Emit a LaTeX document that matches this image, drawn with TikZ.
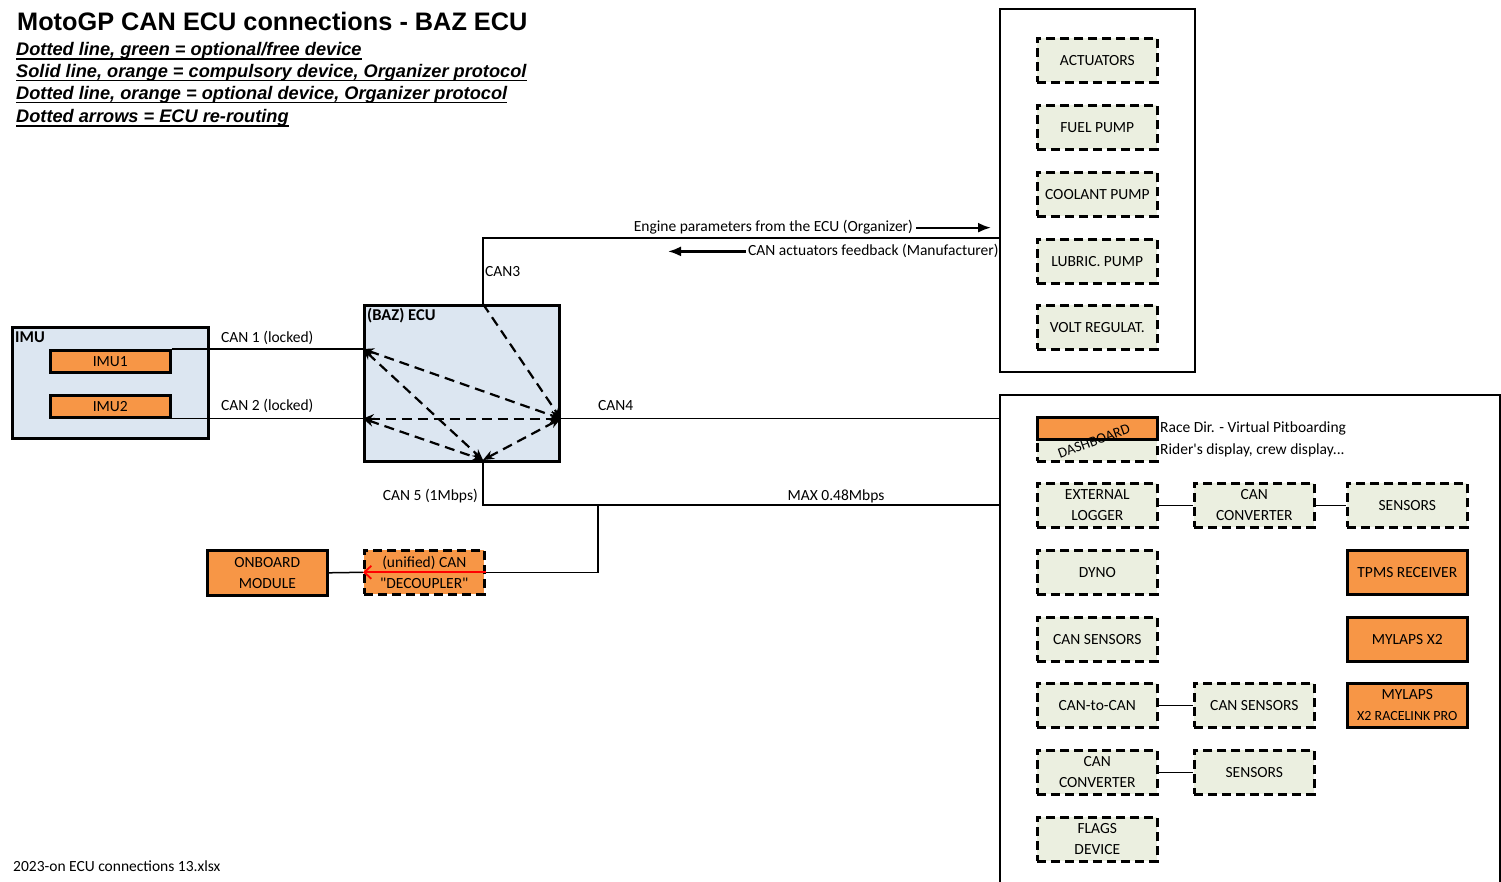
\documentclass[tikz,border=0pt]{standalone}
\usepackage{fontspec}
\setmainfont{Carlito}[Ligatures=TeXOff]
\newfontfamily\arialfont{Liberation Sans}
\usetikzlibrary{arrows.meta}
\definecolor{lblue}{HTML}{DCE6F1}
\definecolor{orng}{HTML}{F79646}
\definecolor{lgreen}{HTML}{EBEFE0}
\tikzset{
  txt/.style={font=\fontsize{15.5}{21}\selectfont, inner sep=0pt},
  solidbox/.style={draw, line width=2.6pt, fill=orng, minimum width=120pt, minimum height=44pt, align=center, font=\fontsize{15.5}{21}\selectfont, inner sep=0pt},
  optbox/.style={draw, line width=2.6pt, dash pattern=on 9pt off 5pt, fill=lgreen, minimum width=120pt, minimum height=44pt, align=center, font=\fontsize{15.5}{21}\selectfont, inner sep=0pt},
  frame/.style={draw, line width=1.8pt, fill=white},
  bluebox/.style={draw, line width=2.8pt, fill=lblue},
  conn/.style={line width=1.5pt},
  reroute/.style={line width=2.2pt, dash pattern=on 10pt off 6pt, {Stealth[length=11pt,width=9pt]}-{Stealth[length=11pt,width=9pt]}},
  reroutee/.style={line width=2.2pt, dash pattern=on 10pt off 6pt, -{Stealth[length=11pt,width=9pt]}},
  flowarrow/.style={line width=2.2pt, -{Latex[length=13pt,width=10pt]}},
  legend/.style={font=\arialfont\fontsize{18.2}{20}\selectfont\bfseries\itshape, inner sep=0pt, anchor=base west},
  uline/.style={line width=1.6pt},
  boldlab/.style={font=\fontsize{16.5}{18}\selectfont\bfseries, inner sep=0pt, anchor=base west}
}
\begin{document}
\begin{tikzpicture}[x=1pt,y=-1pt]
\useasboundingbox (0,0) rectangle (1501,882);
% title and legend
\node[font=\arialfont\fontsize{25.3}{28}\selectfont\bfseries, inner sep=0pt, anchor=base west] (title) at (17,31) {MotoGP CAN ECU connections - BAZ ECU};
\node[legend] (l1) at (16,56) {Dotted line, green = optional/free device};
\node[legend] (l2) at (16,77.5) {Solid line, orange = compulsory device, Organizer protocol};
\node[legend] (l3) at (16,99.5) {Dotted line, orange = optional device, Organizer protocol};
\node[legend] (l4) at (16,123) {Dotted arrows = ECU re-routing};
\foreach \l in {l1,l2,l3,l4}
  \draw[uline] ([yshift=-3pt]\l.base west) -- ([yshift=-3pt]\l.base east);
\node[txt, anchor=base west] (foot) at (13,871) {2023-on ECU connections 13.xlsx};

% frames on the right
\node[frame, minimum width=195pt, minimum height=363pt, anchor=north west, inner sep=0pt] (topbox) at (999,8) {};
\node[frame, minimum width=500pt, minimum height=490pt, anchor=north west, inner sep=0pt] (botbox) at (999,394) {};

% IMU
\node[bluebox, minimum width=196pt, minimum height=111pt, anchor=north west, inner sep=0pt] (imu) at (11,326) {};
\node[boldlab] (imulab) at (15,342) {IMU};
\node[solidbox, minimum height=22pt, anchor=north west] (imu1) at (49,349) {IMU1};
\node[solidbox, minimum height=22pt, anchor=north west] (imu2) at (49,394) {IMU2};

% ECU
\node[bluebox, minimum width=195pt, minimum height=156pt, anchor=north west, inner sep=0pt] (ecu) at (363,304) {};
\node[boldlab] (eculab) at (367,320) {(BAZ) ECU};
\coordinate (e1) at (ecu.west |- imu1.north east);
\coordinate (e2) at (ecu.west |- imu2.south east);
\coordinate (e4) at (ecu.east |- imu2.south east);
\coordinate (e3) at (483,304);
\coordinate (e5) at (483,460);

\draw[conn] (imu1.north east) -- (e1);
\draw[conn] (imu2.south east) -- (e2);
\node[txt, anchor=base west] (c1) at (221,342) {CAN 1 (locked)};
\node[txt, anchor=base west] (c2) at (221,410) {CAN 2 (locked)};

% reroute arrows
\draw[reroute] (e1) -- (e4);
\draw[reroute] (e1) -- (e5);
\draw[reroute] (e2) -- (e4);
\draw[reroute] (e2) -- (e5);
\draw[reroute] (e5) -- (e4);
\draw[reroutee] (e3) -- (e4);

% CAN3
\draw[conn] (e3) -- (483,238) -- (topbox.west |- 0,238);
\node[txt, anchor=base west] (c3) at (485,277) {CAN3};
\node[txt, anchor=base east] (eng) at (913,232) {Engine parameters from the ECU (Organizer)};
\coordinate (engend) at (991,228);
\draw[flowarrow] ([xshift=3pt]eng.east) -- (engend |- eng.east);
\node[txt, anchor=base west] (fb) at (748,256) {CAN actuators feedback (Manufacturer)};
\coordinate (fbend) at (668,252);
\draw[flowarrow] ([xshift=-2pt]fb.west) -- (fbend |- fb.west);

% CAN4
\draw[conn] (e4) -- (botbox.west |- e4);
\node[txt, anchor=base west] (c4) at (598,410) {CAN4};

% CAN5
\coordinate (b1) at (598,505);
\draw[conn] (e5) -- (483,505) -- (botbox.west |- b1);
\node[txt, anchor=base east] (c5) at (478,500) {CAN 5 (1Mbps)};
\node[txt, anchor=base] (mx) at (836,500) {MAX 0.48Mbps};

% decoupler and onboard module
\node[solidbox, dash pattern=on 9pt off 5pt, minimum height=44pt, anchor=north west] (dec) at (363,549) {(unified) CAN\\"DECOUPLER"};
\node[solidbox, anchor=north west, minimum height=45pt] (onb) at (206,549) {ONBOARD\\MODULE};
\draw[conn] (b1) |- (dec.east);
\draw[red, line width=1.8pt, -{Straight Barb[length=7pt,width=13pt,line width=1.8pt]}] (dec.east) -- (dec.west);
\draw[conn] (dec.west) -- (onb.east);

% top right devices
\node[optbox, anchor=north west] (act) at (1036,37) {ACTUATORS};
\node[optbox, anchor=north west] (fuel) at (1036,104) {FUEL PUMP};
\node[optbox, anchor=north west] (cool) at (1036,171) {COOLANT PUMP};
\node[optbox, anchor=north west] (lub) at (1036,238) {LUBRIC. PUMP};
\node[optbox, anchor=north west] (volt) at (1036,304) {VOLT REGULAT.};

% dashboard
\node[optbox, minimum height=22pt, anchor=north west] (dashb) at (1036,438) {};
\node[solidbox, minimum height=22pt, anchor=north west] (dasht) at (1036,416) {};
\node[txt, rotate=20, font=\fontsize{14.5}{16}\selectfont] (dashlab) at (1094,441) {DASHBOARD};
\node[txt, anchor=base west] (rd) at (1160,432) {Race Dir. - Virtual Pitboarding};
\node[txt, anchor=base west] (rdisp) at (1160,454) {Rider's display, crew display...};

% bottom right devices
\node[optbox, anchor=north west] (ext) at (1036,482) {EXTERNAL\\LOGGER};
\node[optbox, anchor=north west] (conv1) at (1193,482) {CAN\\CONVERTER};
\node[optbox, anchor=north west] (sens1) at (1346,482) {SENSORS};
\draw[conn] (ext.east) -- (conv1.west);
\draw[conn] (conv1.east) -- (sens1.west);
\node[optbox, anchor=north west] (dyno) at (1036,549) {DYNO};
\node[solidbox, anchor=north west] (tpms) at (1346,549) {TPMS RECEIVER};
\node[optbox, anchor=north west] (cans1) at (1036,616) {CAN SENSORS};
\node[solidbox, anchor=north west] (myl) at (1346,616) {MYLAPS X2};
\node[optbox, anchor=north west] (c2c) at (1036,682) {CAN-to-CAN};
\node[optbox, anchor=north west] (cans2) at (1193,682) {CAN SENSORS};
\draw[conn] (c2c.east) -- (cans2.west);
\node[solidbox, anchor=north west] (mylp) at (1346,682) {MYLAPS\\{\fontsize{14}{15}\selectfont X2 RACELINK PRO}};
\node[optbox, anchor=north west] (conv2) at (1036,749) {CAN\\CONVERTER};
\node[optbox, anchor=north west] (sens2) at (1193,749) {SENSORS};
\draw[conn] (conv2.east) -- (sens2.west);
\node[optbox, anchor=north west] (flags) at (1036,816) {FLAGS\\DEVICE};
\end{tikzpicture}
\end{document}
